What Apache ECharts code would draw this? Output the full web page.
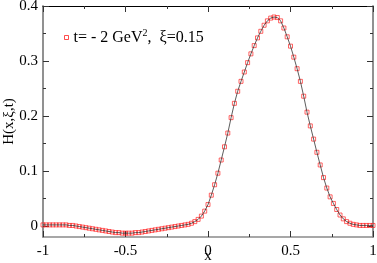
<!DOCTYPE html>
<html>
<head>
<meta charset="utf-8">
<script src="https://cdn.jsdelivr.net/npm/echarts@6/dist/echarts.min.js"></script>
<style>html,body{margin:0;padding:0;background:#fff}#c{width:377px;height:263px}</style>
</head>
<body>
<div id="c"></div>
<script>
var xs = [-1.00,-0.98,-0.96,-0.94,-0.92,-0.90,-0.88,-0.86,-0.84,-0.82,-0.80,-0.78,-0.76,-0.74,-0.72,-0.70,-0.68,-0.66,-0.64,-0.62,-0.60,-0.58,-0.56,-0.54,-0.52,-0.50,-0.48,-0.46,-0.44,-0.42,-0.40,-0.38,-0.36,-0.34,-0.32,-0.30,-0.28,-0.26,-0.24,-0.22,-0.20,-0.18,-0.16,-0.14,-0.12,-0.10,-0.08,-0.06,-0.04,-0.02,
0.00,0.02,0.04,0.06,0.08,0.10,0.12,0.14,0.16,0.18,0.20,0.22,0.24,0.26,0.28,0.30,0.32,0.34,0.36,0.38,0.40,0.42,0.44,0.46,0.48,0.50,0.52,0.54,0.56,0.58,0.60,0.62,0.64,0.66,0.68,0.70,0.72,0.74,0.76,0.78,0.80,0.82,0.84,0.86,0.88,0.90,0.92,0.94,0.96,0.98,1.00];
var hs = [0.002,0.002,0.002,0.002,0.002,0.002,0.002,0.002,0.001,0.001,0.000,-0.001,-0.002,-0.003,-0.004,-0.005,-0.006,-0.007,-0.008,-0.009,-0.010,-0.011,-0.012,-0.012,-0.013,-0.013,-0.013,-0.013,-0.012,-0.012,-0.011,-0.010,-0.009,-0.008,-0.007,-0.006,-0.005,-0.004,-0.003,-0.002,-0.001,0.000,0.001,0.002,0.003,0.005,0.008,0.012,0.018,0.027,
0.039,0.056,0.075,0.096,0.120,0.144,0.169,0.197,0.223,0.245,0.263,0.280,0.297,0.313,0.328,0.342,0.354,0.365,0.373,0.378,0.380,0.379,0.373,0.360,0.344,0.327,0.307,0.286,0.263,0.236,0.207,0.182,0.158,0.134,0.111,0.088,0.069,0.053,0.041,0.030,0.020,0.013,0.008,0.005,0.003,0.002,0.001,0.001,0.001,0.001,0.001];
var yMajor = [0, 0.1, 0.2, 0.3, 0.4];
var yMinor = [0.05, 0.15, 0.25, 0.35];
var yLabels = ['0', '0.1', '0.2', '0.3', '0.4'];
var legendName = 't= - 2 GeV{sup|2},  ξ=0.15';

var pts = xs.map(function (x, i) { return [x, hs[i]]; });
var FONT = '"Liberation Serif", "DejaVu Serif", serif';
var GRAY = '#8a8a8a';

function yAx(pos, vals, len, showLabel, color, extra) {
  var o = {
    type: 'value', position: pos, min: -0.02, max: 0.4, offset: 0,
    splitLine: { show: false },
    axisLine: { show: true, onZero: false, lineStyle: { color: color, width: 1.5 } },
    axisTick: { show: true, inside: true, length: len, customValues: vals, lineStyle: { color: '#333', width: 1 } },
    axisLabel: { show: showLabel, customValues: yMajor, fontFamily: FONT, fontSize: 15, color: '#000', margin: 5,
      formatter: function (v) { var i = yMajor.indexOf(v); return i >= 0 ? yLabels[i] : ''; } }
  };
  if (extra) Object.assign(o, extra);
  return o;
}

var chart = echarts.init(document.getElementById('c'), null, { renderer: 'canvas' });
chart.setOption({
  animation: false,
  backgroundColor: '#fff',
  grid: { left: 43, right: 4, top: 6, bottom: 26, containLabel: false, outerBoundsMode: 'none' },
  legend: {
    show: true, left: 59, top: 23, orient: 'vertical',
    icon: 'rect', itemWidth: 4, itemHeight: 4, itemGap: 2,
    textStyle: { fontFamily: FONT, fontSize: 16, color: '#000',
      rich: { sup: { fontFamily: FONT, fontSize: 10, color: '#000', verticalAlign: 'bottom', padding: [0, 0, 9, 0] } } },
    data: [{ name: legendName, itemStyle: { color: 'transparent', borderColor: '#ff2020', borderWidth: 1 } }]
  },
  xAxis: [
    { type: 'value', position: 'bottom', min: -1, max: 1, interval: 0.5,
      name: 'x', nameLocation: 'middle', nameGap: 12, nameMoveOverlap: false,
      nameTextStyle: { fontFamily: FONT, fontSize: 15, color: '#000' },
      splitLine: { show: false },
      axisLine: { show: true, onZero: false, lineStyle: { color: GRAY, width: 1.5 } },
      axisTick: { show: true, inside: true, length: 6, lineStyle: { color: '#333' } },
      minorTick: { show: true, splitNumber: 2, length: 3, lineStyle: { color: '#333' } },
      axisLabel: { fontFamily: FONT, fontSize: 15, color: '#000', margin: 7,
        formatter: function (v) { return v === 0 ? '0' : String(v); } } },
    { type: 'value', position: 'top', min: -1, max: 1, interval: 0.5,
      splitLine: { show: false },
      axisLine: { show: true, onZero: false, lineStyle: { color: '#000', width: 1 } },
      axisTick: { show: true, inside: true, length: 6, lineStyle: { color: '#333' } },
      minorTick: { show: true, splitNumber: 2, length: 3, lineStyle: { color: '#333' } },
      axisLabel: { show: false } }
  ],
  yAxis: [
    yAx('left', yMajor, 6, true, GRAY, { name: 'H(x,ξ,t)', nameLocation: 'middle', nameGap: 26, nameMoveOverlap: false,
      nameTextStyle: { fontFamily: FONT, fontSize: 15, color: '#000' } }),
    yAx('left', yMinor, 3, false, GRAY),
    yAx('right', yMajor, 6, false, GRAY),
    yAx('right', yMinor, 3, false, GRAY)
  ],
  series: [
    { name: legendName, type: 'scatter', data: pts, xAxisIndex: 0, yAxisIndex: 0,
      symbol: 'rect', symbolSize: 4, z: 2,
      itemStyle: { color: 'rgba(255,255,255,0)', borderColor: 'rgba(255,30,30,0.85)', borderWidth: 1 } },
    { name: 'line', type: 'line', data: pts, xAxisIndex: 0, yAxisIndex: 0,
      showSymbol: false, symbol: 'none', z: 3,
      lineStyle: { color: '#333', width: 0.8 } }
  ]
});
</script>
</body>
</html>
